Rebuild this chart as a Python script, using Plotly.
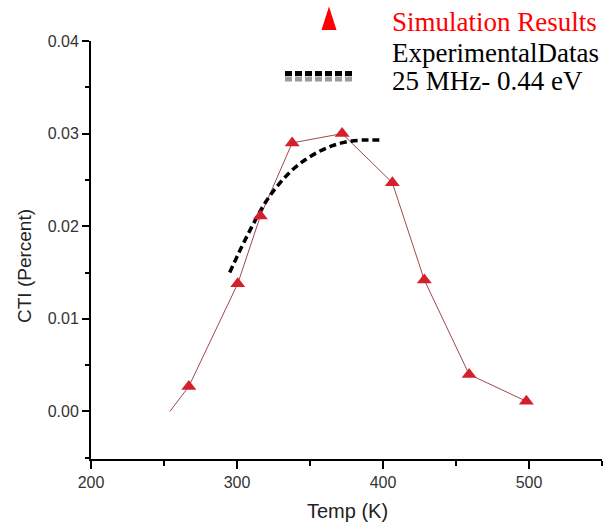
import plotly.graph_objects as go

# ---- data ----
sim_line_temp = [254, 267, 300.5, 316, 337.8, 372, 406.4, 428.3, 459, 498.2]
sim_line_cti = [0.0, 0.0027, 0.0138, 0.0211, 0.0290, 0.0300, 0.0247, 0.0142, 0.0040, 0.0011]
sim_mark_temp = [267, 300.5, 316, 337.8, 372, 406.4, 428.3, 459, 498.2]
sim_mark_cti = [0.0027, 0.0138, 0.0211, 0.0290, 0.0300, 0.0247, 0.0142, 0.0040, 0.0011]

exp_temp = [295, 303, 311, 320, 329, 338, 347, 356.5, 365.5, 374.5, 386, 397.5]
exp_cti = [0.0150, 0.0177, 0.0202, 0.0227, 0.0246, 0.0261, 0.0272, 0.0281, 0.0287, 0.0291, 0.0293, 0.0293]

x_ticks = [200, 300, 400, 500]
y_ticks = [0.00, 0.01, 0.02, 0.03, 0.04]
y_tick_labels = ["0.00", "0.01", "0.02", "0.03", "0.04"]

legend_sim = "Simulation Results"
legend_exp1 = "ExperimentalDatas"
legend_exp2 = "25 MHz- 0.44 eV"
x_title = "Temp (K)"
y_title = "CTI (Percent)"

# ---- layout geometry (pixels) ----
W, H = 606, 526
L, R, T, B = 91, 602, 41, 459


def px(x):
    return (x - L) / (R - L)


def py(y):
    return (B - y) / (B - T)


fig = go.Figure()
fig.add_trace(go.Scatter(x=sim_line_temp, y=sim_line_cti, mode="lines",
                         line=dict(color="#9e4a4a", width=1), showlegend=False,
                         cliponaxis=False))
fig.add_trace(go.Scatter(x=exp_temp, y=exp_cti, mode="lines",
                         line=dict(color="black", width=3.5, dash="7px,4px"),
                         line_shape="spline", showlegend=False))
fig.add_trace(go.Scatter(x=sim_mark_temp, y=sim_mark_cti, mode="markers",
                         marker=dict(symbol="triangle-up", size=13, color="#d4202c"),
                         showlegend=False))

axis_common = dict(showline=True, linecolor="black", linewidth=2, ticks="outside",
                   tickcolor="black", tickwidth=2, showgrid=False, zeroline=False,
                   tickfont=dict(family="Arial, Liberation Sans", size=16, color="#333333"))

fig.update_xaxes(range=[200, 550], tickvals=x_ticks, ticklen=8,
                 minor=dict(dtick=50, ticks="outside", ticklen=5, tickwidth=2, tickcolor="black", showgrid=False),
                 **axis_common)
fig.update_yaxes(range=[-0.00513, 0.04], tickvals=y_ticks, ticktext=y_tick_labels, ticklen=7,
                 minor=dict(dtick=0.005, ticks="outside", ticklen=4, tickwidth=2, tickcolor="black", showgrid=False),
                 **axis_common)

serif = "Times New Roman, Liberation Serif, serif"
annotations = [
    dict(text=legend_sim, x=px(390), y=py(22), xanchor="left", yanchor="middle",
         font=dict(family=serif, size=27, color="#ff0000")),
    dict(text=legend_exp1, x=px(390), y=py(53), xanchor="left", yanchor="middle",
         font=dict(family=serif, size=27, color="black")),
    dict(text=legend_exp2, x=px(390), y=py(81), xanchor="left", yanchor="middle",
         font=dict(family=serif, size=27, color="black")),
    dict(text=x_title, x=px(347), y=py(511), xanchor="center", yanchor="middle",
         font=dict(family="Arial, Liberation Sans", size=20, color="#222222")),
    dict(text=y_title, x=px(24), y=py(266), xanchor="center", yanchor="middle", textangle=-90,
         font=dict(family="Arial, Liberation Sans", size=19, color="#222222")),
]
for a in annotations:
    a.update(xref="paper", yref="paper", showarrow=False)

shapes = [
    dict(type="path", xref="paper", yref="paper",
         path=f"M {px(321.5)},{py(30)} L {px(336.5)},{py(30)} L {px(329)},{py(6.5)} Z",
         fillcolor="#ff0000", line=dict(width=0)),
    dict(type="line", xref="paper", yref="paper", x0=px(285), x1=px(352), y0=py(73.5), y1=py(73.5),
         line=dict(color="black", width=5, dash="7px,3px")),
    dict(type="line", xref="paper", yref="paper", x0=px(285), x1=px(352), y0=py(79), y1=py(79),
         line=dict(color="#9a9a9a", width=5, dash="7px,3px")),
]

fig.update_layout(width=W, height=H, autosize=False,
                  margin=dict(l=L, r=W - R, t=T, b=H - B, pad=0),
                  plot_bgcolor="white", paper_bgcolor="white",
                  annotations=annotations, shapes=shapes, showlegend=False)

fig.write_html("out.html", config={"displayModeBar": False},
               post_script="document.body.style.margin='0';document.body.style.overflow='hidden';")
